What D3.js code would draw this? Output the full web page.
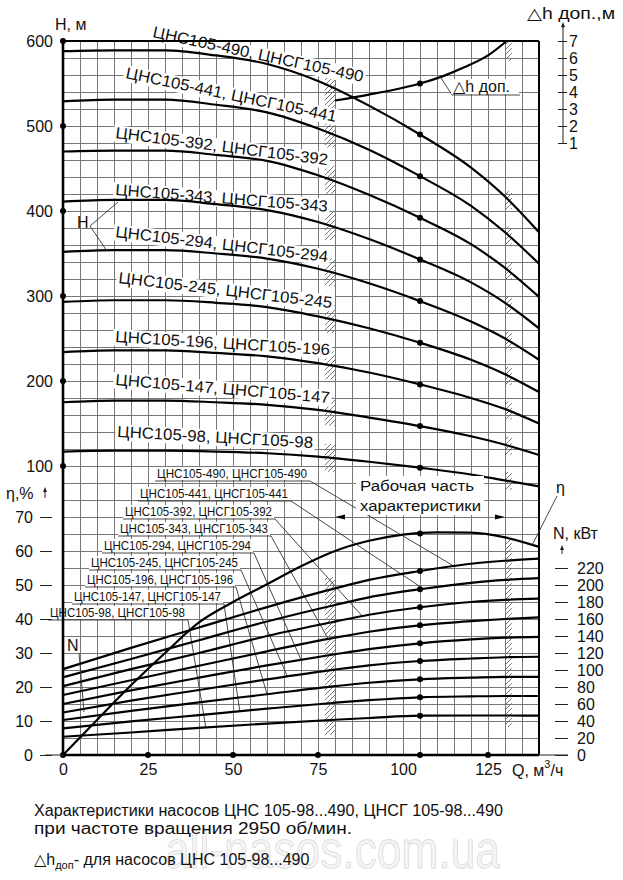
<!DOCTYPE html>
<html><head><meta charset="utf-8">
<script src="https://cdn.jsdelivr.net/npm/d3@7"></script>
<style>
body{margin:0;background:#fff}
svg{display:block}
text{font-family:"Liberation Sans",Arial,"DejaVu Sans",sans-serif;fill:#111}
</style>
</head><body>
<svg id="c" width="623" height="880"></svg>
<script>
// ---------------- DATA ----------------
const models = ["98","147","196","245","294","343","392","441","490"];
// Head H (m) at flow points
const flowH = [0,15,30,45,60,75,90,105,120,130,140];
const head98  = [117,118,118,117,115,111,105, 98, 90, 83, 76];
const head147 = [175,177,177,175,172,166,157,147,135,125,113];
const head196 = [234,236,236,233,229,221,210,196,180,167,150];
const head245 = [293,295,295,292,287,276,262,245,225,208,187];
const head294 = [352,354,354,350,344,332,315,294,270,250,225];
const head343 = [411,413,413,408,401,387,367,343,316,292,262];
const head392 = [470,471,471,466,459,442,419,392,361,333,299];
const head441 = [529,531,531,525,516,497,472,441,406,375,338];
const head490 = [588,589,589,583,573,553,524,490,451,417,375];
// Power N (kW)
const flowN = [0,20,40,60,80,90,105,120,130,140];
const power98  = [21.5,26.5,32,37,41.5,43.5,46.3,46.5,46.5,46.3];
const power147 = [31.4,39.5,47,54.5,61.5,64.5,67.9,69,69.4,69.4];
const power196 = [41.2,52,62,71.5,81,85,89,91,92,92];
const power245 = [50,64,76.5,89,100.5,105.5,110.6,113.5,115,115.6];
const power294 = [60,76,91,105.5,118.5,124.5,131.4,136,138,139];
const power343 = [70.6,88,105,122,138,145,152.6,157.5,160,162];
const power392 = [81,101,120,140,157,165,173.8,180,182.5,184];
const power441 = [91.4,113,135,157,176.5,185.5,195,202.5,206,208];
const power490 = [101,126,150,174,196,206,216.5,225,228.5,231];
// Efficiency (%)
const flowEta = [0,10,20,30,40,50,60,70,80,90,100,110,120,130,140];
const efficiency = [0,10.3,20.5,30,39,45,50.2,55.5,60,63,64.8,65.5,65.4,64,61.2];
// NPSH Δh доп (m)
const flowDh = [80,90,100,105,112,118,125,130.5];
const npsh = [3.5,3.85,4.25,4.5,4.95,5.45,6.15,7.0];
// Tick labels
const qTicks = [0,25,50,75,100,125];
const qDots = [0,25,50,75,105,125];
const hTicks = [100,200,300,400,500,600];
const etaTicks = [0,10,20,30,40,50,60,70];
const nTicks = [0,20,40,60,80,100,120,140,160,180,200,220];
const dhTicks = [1,2,3,4,5,6,7];
const nominalQ = 105;

const heads = [head98,head147,head196,head245,head294,head343,head392,head441,head490];
const powers = [power98,power147,power196,power245,power294,power343,power392,power441,power490];

// ---------------- LAYOUT ----------------
const svg = d3.select("#c");
const x = d3.scaleLinear().domain([0,140]).range([63,539]);
const yH = d3.scaleLinear().domain([100,600]).range([466,41]);
const yEta = d3.scaleLinear().domain([0,70]).range([755,517]);
const yN = d3.scaleLinear().domain([0,220]).range([755,568]);
const yDh = d3.scaleLinear().domain([0,7]).range([160,41]);
const FONT = '"Liberation Sans",Arial,sans-serif';

// hatch pattern
const defs = svg.append("defs");
const pat = defs.append("pattern").attr("id","hatch").attr("patternUnits","userSpaceOnUse")
  .attr("width",5).attr("height",5);
pat.append("path").attr("d","M-1,1 L1,-1 M0,5 L5,0 M4,6 L6,4").attr("stroke","#666").attr("stroke-width",0.9);

// grid
const grid = svg.append("g").attr("stroke","#777").attr("stroke-width",1).attr("shape-rendering","crispEdges");
d3.range(0,141,5).forEach(q=>grid.append("line").attr("x1",x(q)).attr("x2",x(q)).attr("y1",yH(600)).attr("y2",yEta(0)));
d3.range(-240,601,20).forEach(h=>grid.append("line").attr("x1",x(0)).attr("x2",x(140)).attr("y1",yH(h)).attr("y2",yH(h)));

// hatched bands
const interp = (xs,ys)=>d3.scaleLinear().domain(xs).range(ys);
const band = svg.append("g");
function hatch(q0,q1,ya,yb){band.append("rect").attr("x",x(q0)).attr("width",x(q1)-x(q0)).attr("y",Math.min(ya,yb)).attr("height",Math.abs(yb-ya)).attr("fill","url(#hatch)");}
heads.forEach(hs=>{
  const f = interp(flowH,hs);
  const yl = yH(f(78.5)); hatch(77,80,yl-14,yl+14);
  const yr = yH(f(131)); hatch(130,132,yr-9,yr+9);
});
hatch(77,80,yDh(3.5)-14,yDh(3.5)+14);
hatch(130,132,yDh(7),yDh(5.8));
hatch(77,80,577,735);
hatch(130,132,540,727);

// labeled text with white box (rotated)
function boxedText(px,py,ang,len,str,size){
  const g = svg.append("g").attr("transform",`translate(${px},${py}) rotate(${ang})`);
  g.append("rect").attr("x",-2).attr("y",-size*0.8).attr("width",len+4).attr("height",size*1.02).attr("fill","#fff");
  g.append("text").attr("x",0).attr("y",0).attr("font-size",size).attr("textLength",len)
    .attr("lengthAdjust","spacingAndGlyphs").text(str);
  return g;
}

// H curve labels (layout)
const hLabelLayout = [
  [117,437,3.2,196],[115,385,4.8,215],[115,342,3.5,215],[118,283,6.7,215],[115,237,6.7,214],
  [115,195,4.5,213],[115,138,7.3,214],[125,78,11.8,215],[152,37,12.1,215]
];
models.forEach((m,i)=>{
  const [px,py,a,l] = hLabelLayout[i];
  boxedText(px,py,a,l,`ЦНС105-${m}, ЦНСГ105-${m}`,16);
});

// N curve labels (layout): xStart, baseline, xEnd, target Q on N curve
const nLabelLayout = [
  [50,617,185,42],[74,601,221,52],[87,584,233,60],[91,567,238,66],[104,550,251,70],
  [120,533,268,78],[125,516,272,88],[140,498,288,106],[157,478,307,115]
];
const leaders = svg.append("g").attr("stroke","#333").attr("stroke-width",0.9).attr("fill","none");
models.forEach((m,i)=>{
  const [x0,yb,x1,qt] = nLabelLayout[i];
  svg.append("rect").attr("x",x0-2).attr("y",yb-11).attr("width",x1-x0+4).attr("height",13).attr("fill","#fff");
  svg.append("text").attr("x",x0).attr("y",yb).attr("font-size",13.5).attr("textLength",x1-x0)
    .attr("lengthAdjust","spacingAndGlyphs").text(`ЦНС105-${m}, ЦНСГ105-${m}`);
  const f = interp(flowN,powers[i]);
  leaders.append("polyline").attr("points",`${x0-2},${yb+3} ${x1+3},${yb+3} ${x(qt)},${yN(f(qt))}`);
});

// curves
const curves = svg.append("g").attr("fill","none").attr("stroke","#000").attr("stroke-width",2.2);
const lineH = d3.line().x(d=>x(d[0])).y(d=>yH(d[1])).curve(d3.curveMonotoneX);
const lineN = d3.line().x(d=>x(d[0])).y(d=>yN(d[1])).curve(d3.curveMonotoneX);
const lineE = d3.line().x(d=>x(d[0])).y(d=>yEta(d[1])).curve(d3.curveMonotoneX);
const lineD = d3.line().x(d=>x(d[0])).y(d=>yDh(d[1])).curve(d3.curveMonotoneX);
heads.forEach(hs=>curves.append("path").attr("d",lineH(d3.zip(flowH,hs))));
powers.forEach(ps=>curves.append("path").attr("d",lineN(d3.zip(flowN,ps))));
curves.append("path").attr("d",lineE(d3.zip(flowEta,efficiency)));
curves.append("path").attr("d",lineD(d3.zip(flowDh,npsh)));

// nominal dots
const dots = svg.append("g").attr("fill","#000");
heads.forEach(hs=>dots.append("circle").attr("cx",x(nominalQ)).attr("cy",yH(interp(flowH,hs)(nominalQ))).attr("r",3));
powers.forEach(ps=>dots.append("circle").attr("cx",x(nominalQ)).attr("cy",yN(interp(flowN,ps)(nominalQ))).attr("r",3));
dots.append("circle").attr("cx",x(nominalQ)).attr("cy",yEta(interp(flowEta,efficiency)(nominalQ))).attr("r",3);
dots.append("circle").attr("cx",x(nominalQ)).attr("cy",yDh(interp(flowDh,npsh)(nominalQ))).attr("r",3);

// frame
const frame = svg.append("g").attr("stroke","#000").attr("fill","none");
frame.append("line").attr("x1",x(0)).attr("x2",x(0)).attr("y1",yH(600)).attr("y2",yEta(0)).attr("stroke-width",2.6);
frame.append("line").attr("x1",x(0)).attr("x2",x(140)).attr("y1",yH(600)).attr("y2",yH(600)).attr("stroke-width",2);
frame.append("line").attr("x1",x(140)).attr("x2",x(140)).attr("y1",yH(600)).attr("y2",yEta(0)).attr("stroke-width",2);
frame.append("line").attr("x1",x(0)).attr("x2",x(140)).attr("y1",yEta(0)).attr("y2",yEta(0)).attr("stroke-width",2.6);

// axes
function styleAxis(g,size){g.select(".domain").remove();g.selectAll("text").attr("font-size",size).attr("font-family",FONT).attr("fill","#111");g.selectAll("line").attr("stroke","#222");}
svg.append("g").attr("transform",`translate(${x(0)},0)`).call(d3.axisLeft(yH).tickValues(hTicks).tickSize(0).tickPadding(10)).call(g=>styleAxis(g,16));
hTicks.forEach(h=>dots.append("circle").attr("cx",x(0)).attr("cy",yH(h)).attr("r",3));
svg.append("g").attr("transform",`translate(0,${yEta(0)})`).call(d3.axisBottom(x).tickValues(qTicks).tickSize(0).tickPadding(9)).call(g=>styleAxis(g,16));
qDots.forEach(q=>dots.append("circle").attr("cx",x(q)).attr("cy",yEta(0)).attr("r",3));
svg.append("g").attr("transform",`translate(52,0)`).call(d3.axisLeft(yEta).tickValues(etaTicks).tickSize(12).tickPadding(7)).call(g=>styleAxis(g,16));
svg.append("line").attr("x1",45).attr("x2",x(0)).attr("y1",yEta(0)).attr("y2",yEta(0)).attr("stroke","#222");
svg.append("g").attr("transform",`translate(555,0)`).call(d3.axisRight(yN).tickValues(nTicks).tickSize(13).tickPadding(9)).call(g=>styleAxis(g,16));
svg.append("line").attr("x1",x(140)).attr("x2",568).attr("y1",yN(0)).attr("y2",yN(0)).attr("stroke","#222");
svg.append("g").attr("transform",`translate(558,0)`).call(d3.axisRight(yDh).tickValues(dhTicks).tickFormat(d3.format("d")).tickSize(9).tickPadding(2)).call(g=>styleAxis(g,16));
svg.append("line").attr("x1",563).attr("x2",563).attr("y1",yDh(1)).attr("y2",24).attr("stroke","#222");

// arrows
function arrowUp(ax,ytop,len){
  svg.append("line").attr("x1",ax).attr("x2",ax).attr("y1",ytop+len).attr("y2",ytop+3).attr("stroke","#222");
  svg.append("path").attr("d",`M${ax-2},${ytop+5} L${ax},${ytop} L${ax+2},${ytop+5}Z`).attr("fill","#222");
}
arrowUp(563,22,6);
arrowUp(562,545,9);
arrowUp(45,487,11);

// axis titles
svg.append("text").attr("x",55).attr("y",30).attr("font-size",16).text("H, м");
svg.append("text").attr("x",6).attr("y",499).attr("font-size",16).text("η,%");
svg.append("text").attr("x",553).attr("y",539).attr("font-size",16).text("N, кВт");
svg.append("text").attr("x",527).attr("y",19).attr("font-size",16).attr("textLength",88).attr("lengthAdjust","spacingAndGlyphs").text("△h доп.,м");
const qt = svg.append("text").attr("x",512).attr("y",776).attr("font-size",16);
qt.append("tspan").text("Q, м");
qt.append("tspan").attr("dy",-8).attr("font-size",11).text("3");
qt.append("tspan").attr("dy",8).text("/ч");

// annotations
const ann = svg.append("g").attr("stroke","#333").attr("stroke-width",0.9).attr("fill","none");
svg.append("text").attr("x",77).attr("y",228).attr("font-size",16).text("H");
ann.append("polyline").attr("points",`118,202 90,226 107,251`);
svg.append("text").attr("x",67).attr("y",651).attr("font-size",16).text("N");
ann.append("line").attr("x1",79).attr("y1",653).attr("x2",84).attr("y2",712);
svg.append("text").attr("x",556).attr("y",493).attr("font-size",16).text("η");
ann.append("line").attr("x1",557).attr("y1",496).attr("x2",x(138)).attr("y2",yEta(interp(flowEta,efficiency)(138)));
// Δh label
svg.append("rect").attr("x",451).attr("y",79).attr("width",68).attr("height",15).attr("fill","#fff");
svg.append("text").attr("x",453).attr("y",92).attr("font-size",16).text("△h доп.");
ann.append("polyline").attr("points",`520,95 452,95 ${x(111)},${yDh(interp(flowDh,npsh)(111))}`);
// working range
svg.append("rect").attr("x",356).attr("y",476).attr("width",128).attr("height",39).attr("fill","#fff");
svg.append("text").attr("x",360).attr("y",491).attr("font-size",15.5).attr("textLength",114).attr("lengthAdjust","spacingAndGlyphs").text("Рабочая часть");
svg.append("text").attr("x",360).attr("y",511).attr("font-size",15.5).attr("textLength",121).attr("lengthAdjust","spacingAndGlyphs").text("характеристики");
svg.append("path").attr("d",`M${x(80)},${yEta(70)} l10,-2.5 l0,5Z`).attr("fill","#000");
svg.append("path").attr("d",`M${x(130)},${yEta(70)} l-10,-2.5 l0,5Z`).attr("fill","#000");

// watermark
svg.append("text").attr("x",165).attr("y",868).attr("font-size",54).attr("textLength",335)
  .attr("lengthAdjust","spacingAndGlyphs").style("fill","#f4f4f4").attr("stroke","#dedede").attr("stroke-width",1)
  .text("all-nasos.com.ua");

// caption
svg.append("text").attr("x",34).attr("y",816).attr("font-size",16).attr("textLength",469).attr("lengthAdjust","spacingAndGlyphs")
  .text("Характеристики насосов ЦНС 105-98...490, ЦНСГ 105-98...490");
svg.append("text").attr("x",34).attr("y",834).attr("font-size",16).attr("textLength",318).attr("lengthAdjust","spacingAndGlyphs")
  .text("при частоте вращения 2950 об/мин.");
const c3 = svg.append("text").attr("x",34).attr("y",865).attr("font-size",16);
c3.append("tspan").text("△h");
c3.append("tspan").attr("dy",4).attr("font-size",11).text("доп");
c3.append("tspan").attr("dy",-4).text("- для насосов ЦНС 105-98...490");
</script>
</body></html>
